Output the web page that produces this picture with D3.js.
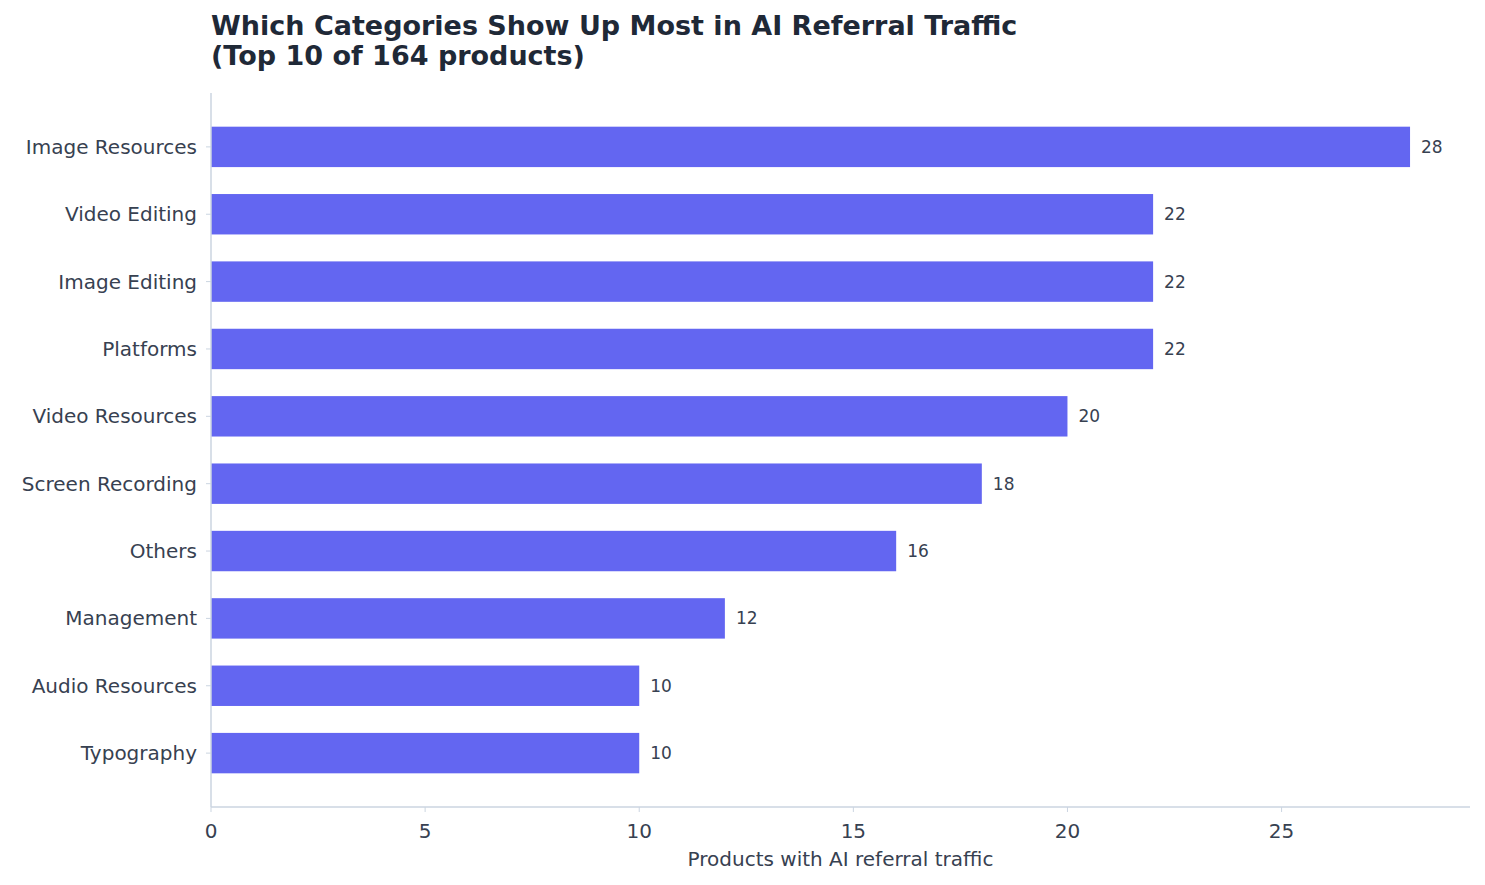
<!DOCTYPE html>
<html lang="en">
<head>
<meta charset="utf-8">
<title>AI Referral Traffic Categories</title>
<script src="https://cdn.jsdelivr.net/npm/d3@7"></script>
<style>
  body { margin: 0; background: #fff; }
  svg text { font-family: "DejaVu Sans", sans-serif; }
</style>
</head>
<body>
<svg id="chart" width="1485" height="885"></svg>
<script>
var categories = ["Image Resources", "Video Editing", "Image Editing", "Platforms", "Video Resources",
                  "Screen Recording", "Others", "Management", "Audio Resources", "Typography"];
var counts = [28, 22, 22, 22, 20, 18, 16, 12, 10, 10];
var xTicks = [0, 5, 10, 15, 20, 25];

var svg = d3.select('#chart');
var mLeft = 211, mRight = 1470, mTop = 93, mBottom = 807;

var x = d3.scaleLinear().domain([0, 29.4]).range([mLeft, mRight]);
var y = d3.scaleLinear().domain([-0.8, 9.8]).range([mTop, mBottom]);
var barH = y(0.3) - y(-0.3);

// title
svg.append('text').attr('x', mLeft).attr('y', 35)
    .attr('font-size', 27).attr('font-weight', 'bold').attr('fill', '#1f2937')
    .text('Which Categories Show Up Most in AI Referral Traffic');
svg.append('text').attr('x', mLeft).attr('y', 65)
    .attr('font-size', 27).attr('font-weight', 'bold').attr('fill', '#1f2937')
    .text('(Top 10 of 164 products)');

// bars
svg.selectAll('rect.bar').data(counts).enter().append('rect')
    .attr('class', 'bar')
    .attr('x', x(0))
    .attr('y', function(d, i) { return y(i) - barH / 2; })
    .attr('width', function(d) { return x(d) - x(0); })
    .attr('height', barH)
    .attr('fill', '#6366f1');

// value labels
svg.selectAll('text.val').data(counts).enter().append('text')
    .attr('class', 'val')
    .attr('x', function(d) { return x(d) + 11; })
    .attr('y', function(d, i) { return y(i); })
    .attr('dy', '0.35em')
    .attr('font-size', 17).attr('fill', '#374151')
    .text(function(d) { return d; });

// y axis
svg.append('line').attr('x1', mLeft).attr('x2', mLeft).attr('y1', mTop).attr('y2', mBottom)
    .attr('stroke', '#cbd5e1').attr('stroke-width', 1.5);
var yt = svg.selectAll('g.ytick').data(categories).enter().append('g')
    .attr('transform', function(d, i) { return 'translate(' + mLeft + ',' + y(i) + ')'; });
yt.append('line').attr('x1', -5).attr('x2', 0).attr('stroke', '#cbd5e1');
yt.append('text').attr('x', -14).attr('dy', '0.35em').attr('text-anchor', 'end')
    .attr('font-size', 20).attr('fill', '#374151')
    .text(function(d) { return d; });

// x axis
svg.append('line').attr('x1', mLeft).attr('x2', mRight).attr('y1', mBottom).attr('y2', mBottom)
    .attr('stroke', '#cbd5e1').attr('stroke-width', 1.5);
var xt = svg.selectAll('g.xtick').data(xTicks).enter().append('g')
    .attr('transform', function(d) { return 'translate(' + x(d) + ',' + mBottom + ')'; });
xt.append('line').attr('y1', 0).attr('y2', 5).attr('stroke', '#cbd5e1');
xt.append('text').attr('y', 31).attr('text-anchor', 'middle')
    .attr('font-size', 20).attr('fill', '#374151')
    .text(function(d) { return d; });

svg.append('text').attr('x', (mLeft + mRight) / 2).attr('y', 866).attr('text-anchor', 'middle')
    .attr('font-size', 20).attr('fill', '#374151')
    .text('Products with AI referral traffic');
</script>
</body>
</html>
